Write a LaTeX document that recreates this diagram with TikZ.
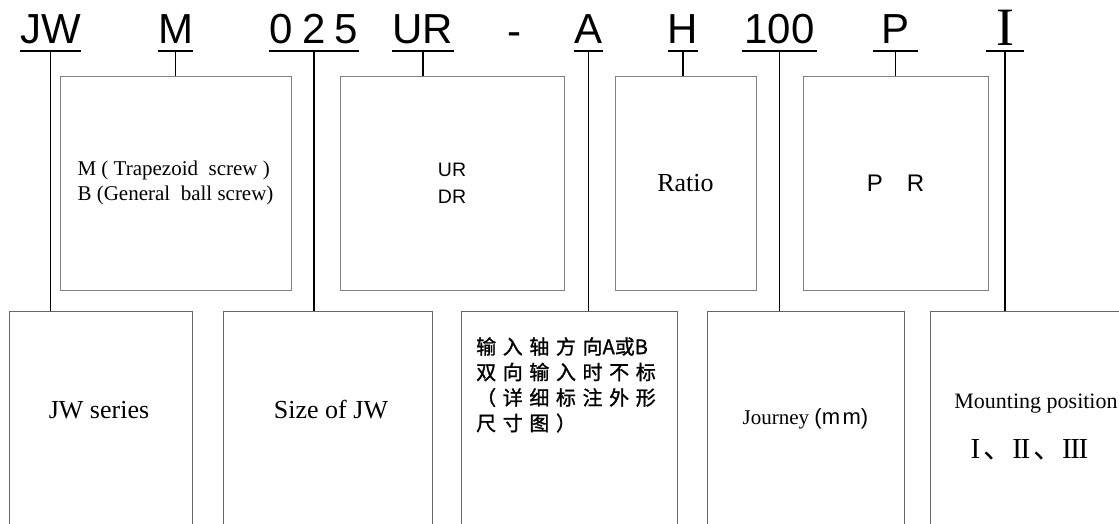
\documentclass[tikz,border=0pt]{standalone}
\usepackage{fontspec}
\setmainfont{Liberation Serif}
\setsansfont{Liberation Sans}
\newfontfamily\cjkfont[LetterSpace=33,FakeBold=1.2]{Noto Sans CJK SC}
\newfontfamily\cjktight[FakeBold=1.2]{Noto Sans CJK SC}
\newfontfamily\cjkplain{Noto Sans CJK SC}
\usetikzlibrary{positioning}
\tikzset{
code/.style={font=\fontsize{42}{42}\selectfont\sffamily, inner sep=0pt, text depth=8pt, anchor=base}, % the letters of the type code
uline/.style={line width=2pt}, % bar under each part of the code
stem/.style={line width=1.3pt},
topbox/.style={draw=black!50, line width=1pt, minimum height=214pt, inner sep=0pt},
botbox/.style={draw=black!60, line width=0.8pt, minimum height=219pt, inner sep=0pt},
}
\newcommand{\romI}{I}
\newcommand{\romII}{I\kern-1.4pt I}
\newcommand{\romIII}{I\kern-1.4pt I\kern-1.4pt I}

\begin{document}
\begin{tikzpicture}[x=1pt,y=-1pt]
   \useasboundingbox (0,0) rectangle (1119,523);
   % the code itself
   \node[code, minimum width=61pt] (c_jw)     at (50.5,43)  {JW};
   \node[code, minimum width=31pt] (c_m)      at (175.5,43) {M};
   \node[code, minimum width=90pt] (c_size)   at (314,43)   {0\hspace{9pt}2\hspace{9pt}5};
   \node[code, minimum width=60pt] (c_dir)    at (423,43)   {UR};
   \node[code]                     (c_dash)   at (514.5,45) {-};
   \node[code, minimum width=29pt] (c_shaft)  at (588.5,43) {A};
   \node[code, minimum width=30pt] (c_ratio)  at (683,43)   {H};
   \node[code, minimum width=75pt] (c_stroke) at (779.5,43) {100};
   \node[code, minimum width=45pt] (c_p)      at (895.5,43) {P};
   \node[code, minimum width=38pt, text depth=6pt, font=\fontsize{54}{54}\selectfont\rmfamily] (c_pos) at (1005,45) {I};
   % upper boxes
   \node[topbox, minimum width=231pt, align=left, font=\fontsize{21}{25}\selectfont]
      (b_screw) at (175.5,183) {M ( Trapezoid\ \ screw )\\B (General\ \ ball screw)};
   \node[topbox, minimum width=224pt, align=center, font=\fontsize{19.5}{27}\selectfont\sffamily]
      (b_dir) at (452,183) {UR\\DR};
   \node[topbox, minimum width=141pt, font=\fontsize{26}{26}\selectfont]
      (b_ratio) at (685.5,183) {Ratio};
   \node[topbox, minimum width=185pt, font=\fontsize{24}{24}\selectfont\sffamily]
      (b_p) at (895.5,183) {P\quad R};
   % lower boxes, cut off by the page
   \node[botbox, minimum width=183pt] (b_series) at (100.5,420.5) {};
   \node[botbox, minimum width=209pt] (b_size)   at (327.5,420.5) {};
   \node[botbox, minimum width=216pt] (b_shaft)  at (569,420.5)   {};
   \node[botbox, minimum width=197pt] (b_stroke) at (805.5,420.5) {};
   \node[botbox, minimum width=200pt] (b_pos)    at (1030,420.5)  {};
   \node[anchor=base, font=\fontsize{26}{26}\selectfont] (t_series) at (99,418) {JW series};
   \node[anchor=base, font=\fontsize{26}{26}\selectfont] (t_size) at (331,418) {Size of JW};
   \node[anchor=north west, inner sep=0pt, align=left, font=\fontsize{20}{25.5}\selectfont\cjkfont]
      (t_shaft) at (476,337) {输入轴方向{\cjktight A或B}\\双向输入时不标\\（详细标注外形\\尺寸图）};
   \node[anchor=base, font=\fontsize{21}{21}\selectfont] (t_stroke) at (805.5,424)
      {Journey {\sffamily\fontsize{22}{22}\selectfont (m\kern2.5pt m)}};
   \node[anchor=base, font=\fontsize{22}{22}\selectfont] (t_pos) at (1036,408) {Mounting position};
   \node[anchor=base, font=\fontsize{29}{29}\selectfont] (t_roman) at (1029.5,458)
      {\romI\hspace{3pt}{\cjkplain 、}\romII\hspace{3pt}{\cjkplain 、}\romIII};
   % bars and stems
   \foreach \c in {c_jw,c_m,c_size,c_dir,c_shaft,c_ratio,c_stroke,c_p,c_pos}
      \draw[uline] (\c.south west) -- (\c.south east);
   \foreach \c/\b in {c_jw/b_series, c_m/b_screw, c_size/b_size, c_dir/b_dir, c_shaft/b_shaft,
                      c_ratio/b_ratio, c_stroke/b_stroke, c_p/b_p, c_pos/b_pos}
      \draw[stem] (\c.south) -- (\c.south |- \b.north);
\end{tikzpicture}
\end{document}
